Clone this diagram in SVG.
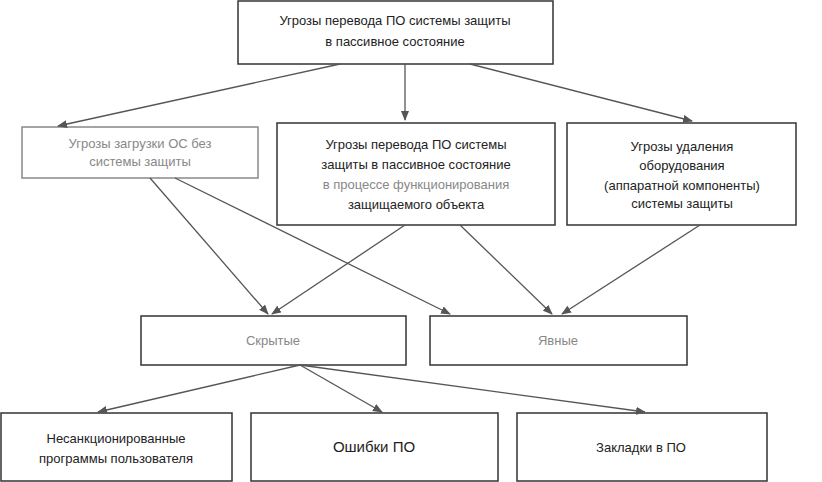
<svg xmlns="http://www.w3.org/2000/svg" width="822" height="482" viewBox="0 0 822 482">
<style>
rect{fill:#fff;stroke:#333;stroke-width:1.5}
text{font-family:"Liberation Sans",Arial,sans-serif;font-size:13px;fill:#222;text-anchor:middle}
.f{fill:#888}
line{stroke:#555;stroke-width:1.3;marker-end:url(#a)}
</style>
<defs><marker id="a" markerWidth="10" markerHeight="8" refX="9" refY="4" orient="auto" markerUnits="userSpaceOnUse"><path d="M0,0L10,4L0,8z" fill="#555"/></marker></defs>
<rect x="0" y="0" width="822" height="482" style="fill:#fff;stroke:none"/>
<g id="top"><rect x="238" y="1" width="315" height="63"/><text x="395" y="25">Угрозы перевода ПО системы защиты</text><text x="395" y="46">в пассивное состояние</text></g>
<g id="n1"><rect x="22" y="127" width="236" height="51" style="stroke:#888"/><text class="f" x="140" y="148">Угрозы загрузки ОС без</text><text class="f" x="140" y="166">системы защиты</text></g>
<g id="n2"><rect x="277" y="123" width="278" height="102"/><text x="416" y="149">Угрозы перевода ПО системы</text><text x="416" y="169">защиты в пассивное состояние</text><text class="f" x="416" y="189">в процессе функционирования</text><text x="416" y="209">защищаемого объекта</text></g>
<g id="n3"><rect x="567" y="123" width="229" height="102"/><text x="682" y="151">Угрозы удаления</text><text x="682" y="170">оборудования</text><text x="682" y="190">(аппаратной компоненты)</text><text x="682" y="208">системы  защиты</text></g>
<g id="n4"><rect x="141" y="316" width="265" height="49"/><text class="f" x="273" y="345">Скрытые</text></g>
<g id="n5"><rect x="430" y="316" width="257" height="49"/><text class="f" x="558" y="345">Явные</text></g>
<g id="n6"><rect x="1" y="413" width="231" height="68"/><text x="116" y="443">Несанкционированные</text><text x="116" y="463">программы пользователя</text></g>
<g id="n7"><rect x="251" y="413" width="247" height="68"/><text x="374" y="452" style="font-size:15px">Ошибки ПО</text></g>
<g id="n8"><rect x="517" y="413" width="250" height="68"/><text x="641" y="452">Закладки в ПО</text></g>
<g id="connectors">
<line x1="405" y1="64" x2="405" y2="120"/>
<line x1="340" y1="64" x2="58" y2="126"/>
<line x1="470" y1="64" x2="692" y2="121"/>
<line x1="150" y1="178" x2="268" y2="314"/>
<line x1="175" y1="178" x2="450" y2="314"/>
<line x1="405" y1="225" x2="272" y2="314"/>
<line x1="460" y1="225" x2="552" y2="314"/>
<line x1="700" y1="225" x2="562" y2="314"/>
<line x1="300" y1="365" x2="98" y2="412"/>
<line x1="300" y1="365" x2="382" y2="412"/>
<line x1="300" y1="365" x2="645" y2="412"/>
</g>
</svg>
